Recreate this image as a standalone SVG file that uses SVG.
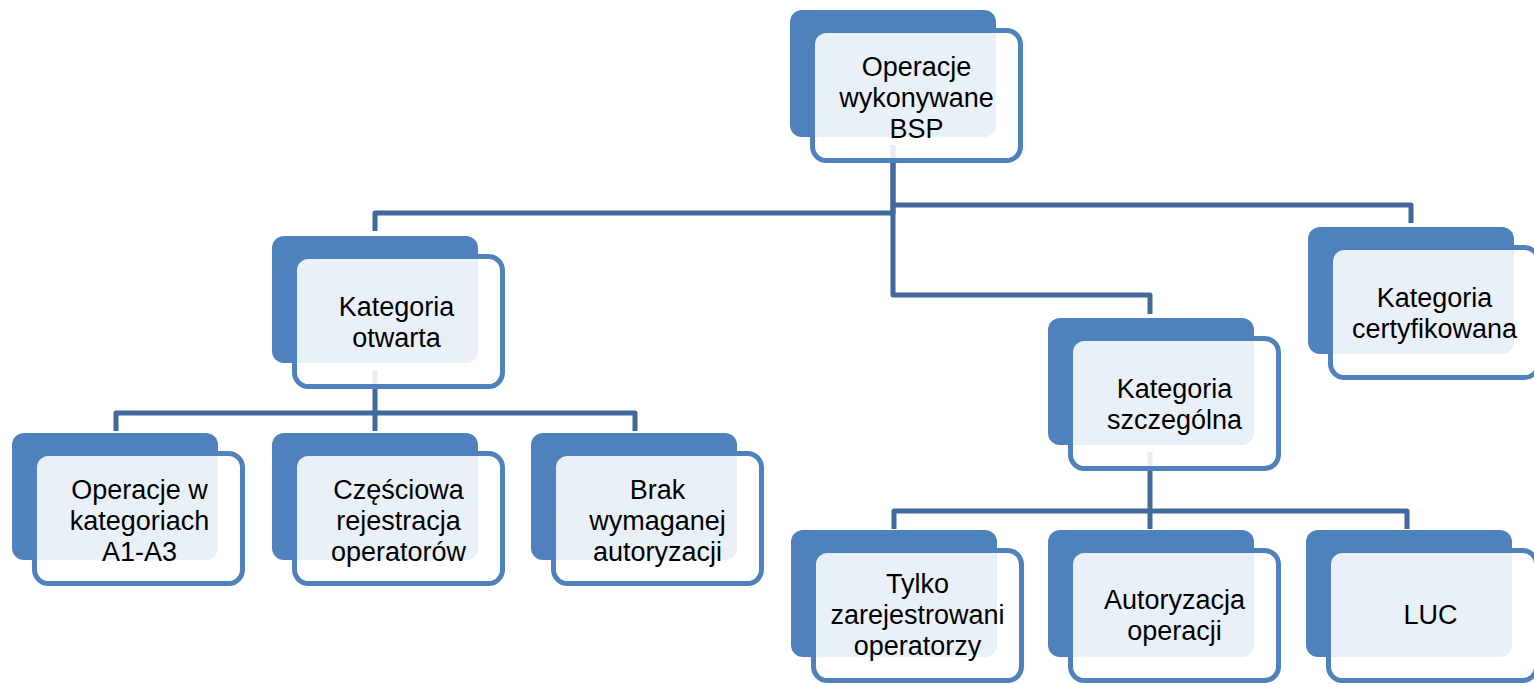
<svg xmlns="http://www.w3.org/2000/svg" width="1534" height="685" viewBox="0 0 1534 685">
<style>
.back{fill:#4F81BD}
.front{fill:#FFFFFF;fill-opacity:0.88;stroke:#4F81BD;stroke-width:5}
.conn{fill:none;stroke:#41699C;stroke-width:5;stroke-linejoin:round}
.t{font-family:"Liberation Sans",Arial,sans-serif;font-size:27px;fill:#000;text-anchor:middle}
</style>
<rect width="1534" height="685" fill="#FFFFFF"/>
<g id="connectors">
<path class="conn" d="M893,145 V213 H375 V231"/>
<path class="conn" d="M893,205 H1411 V223"/>
<path class="conn" d="M893,145 V295 H1150 V314"/>
<path class="conn" d="M375,370 V413 H116 V431"/>
<path class="conn" d="M375,413 V431"/>
<path class="conn" d="M375,413 H635 V431"/>
<path class="conn" d="M1150,452 V511 H894 V529"/>
<path class="conn" d="M1150,511 V529"/>
<path class="conn" d="M1150,511 H1407 V529"/>
</g>
<g id="n-bsp">
<rect class="back" x="790" y="10" width="206" height="127" rx="12"/>
<rect class="front" x="812.5" y="30.5" width="208" height="130" rx="14"/>
<text class="t" x="916.5" y="76">Operacje</text>
<text class="t" x="916.5" y="107">wykonywane</text>
<text class="t" x="916.5" y="138">BSP</text>
</g>
<g id="n-otwarta">
<rect class="back" x="272" y="236" width="206" height="127" rx="12"/>
<rect class="front" x="294.5" y="256.5" width="208" height="130" rx="14"/>
<text class="t" x="396.5" y="316">Kategoria</text>
<text class="t" x="396.5" y="347">otwarta</text>
</g>
<g id="n-certyfikowana">
<rect class="back" x="1308" y="227" width="206" height="127" rx="12"/>
<rect class="front" x="1330.5" y="247.5" width="208" height="130" rx="14"/>
<text class="t" x="1434.5" y="307">Kategoria</text>
<text class="t" x="1434.5" y="338">certyfikowana</text>
</g>
<g id="n-szczegolna">
<rect class="back" x="1048" y="318" width="206" height="127" rx="12"/>
<rect class="front" x="1070.5" y="338.5" width="208" height="130" rx="14"/>
<text class="t" x="1174.5" y="398">Kategoria</text>
<text class="t" x="1174.5" y="429">szczególna</text>
</g>
<g id="n-a1a3">
<rect class="back" x="12" y="433" width="206" height="127" rx="12"/>
<rect class="front" x="34.5" y="453.5" width="208" height="130" rx="14"/>
<text class="t" x="139.5" y="499">Operacje w</text>
<text class="t" x="139.5" y="530">kategoriach</text>
<text class="t" x="139.5" y="561">A1-A3</text>
</g>
<g id="n-czesciowa">
<rect class="back" x="272" y="433" width="206" height="127" rx="12"/>
<rect class="front" x="294.5" y="453.5" width="208" height="130" rx="14"/>
<text class="t" x="398.5" y="499">Częściowa</text>
<text class="t" x="398.5" y="530">rejestracja</text>
<text class="t" x="398.5" y="561">operatorów</text>
</g>
<g id="n-brak">
<rect class="back" x="531" y="433" width="206" height="127" rx="12"/>
<rect class="front" x="553.5" y="453.5" width="208" height="130" rx="14"/>
<text class="t" x="657.5" y="499">Brak</text>
<text class="t" x="657.5" y="530">wymaganej</text>
<text class="t" x="657.5" y="561">autoryzacji</text>
</g>
<g id="n-tylko">
<rect class="back" x="791" y="530" width="206" height="127" rx="12"/>
<rect class="front" x="813.5" y="550.5" width="208" height="130" rx="14"/>
<text class="t" x="917.5" y="593">Tylko</text>
<text class="t" x="917.5" y="624">zarejestrowani</text>
<text class="t" x="917.5" y="655">operatorzy</text>
</g>
<g id="n-autoryzacja">
<rect class="back" x="1048" y="530" width="206" height="127" rx="12"/>
<rect class="front" x="1070.5" y="550.5" width="208" height="130" rx="14"/>
<text class="t" x="1174.5" y="609">Autoryzacja</text>
<text class="t" x="1174.5" y="640">operacji</text>
</g>
<g id="n-luc">
<rect class="back" x="1306" y="530" width="206" height="127" rx="12"/>
<rect class="front" x="1328.5" y="550.5" width="208" height="130" rx="14"/>
<text class="t" x="1430.5" y="624">LUC</text>
</g>
</svg>
